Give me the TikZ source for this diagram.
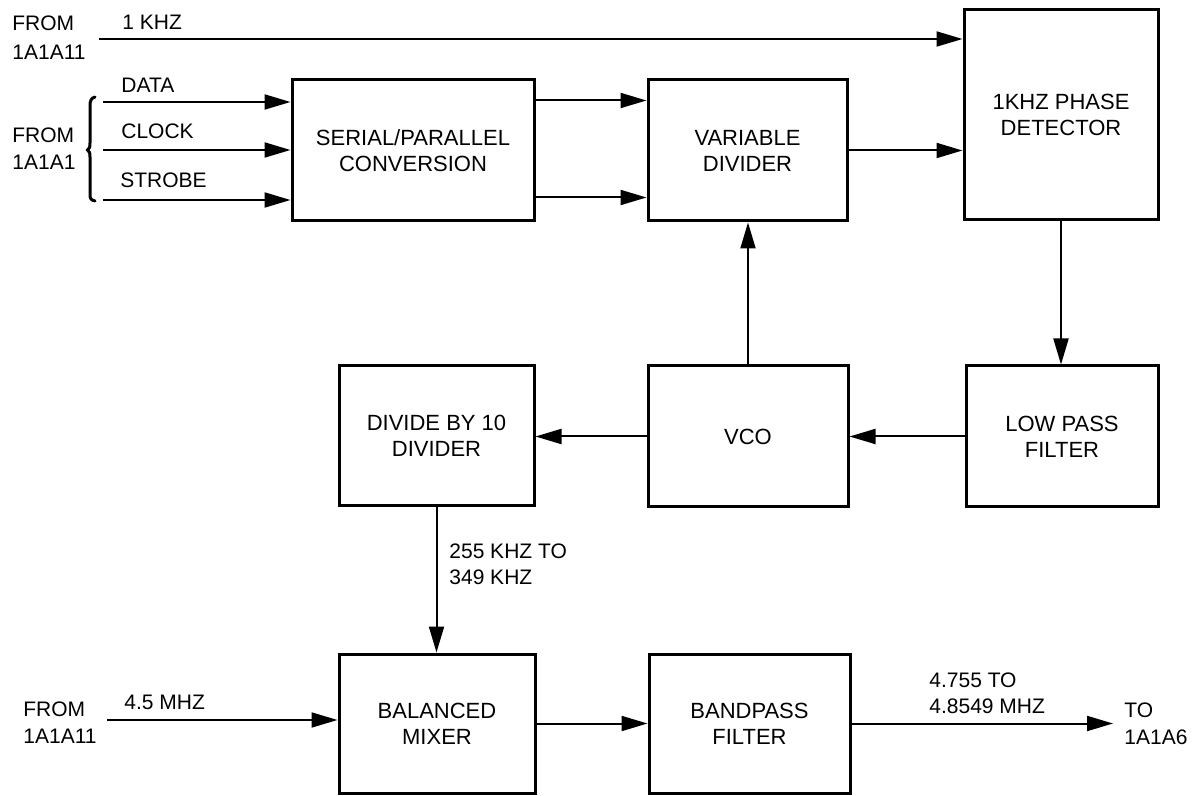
\documentclass[tikz,border=0pt]{standalone}
\usepackage{fontspec}
\setmainfont{Liberation Sans}
\usetikzlibrary{arrows.meta,calc}
\begin{document}
\begin{tikzpicture}[x=0.5pt,y=-0.5pt,
  blk/.style={draw, line width=1.5pt, align=center, inner sep=0pt,
              font=\fontsize{11}{13}\selectfont},
  lbl/.style={anchor=base west, inner sep=0pt, font=\fontsize{10.5}{12}\selectfont},
  arr/.style={line width=1pt, -{Triangle[length=13pt,width=7.5pt]}},
  brc/.style={line width=1.5pt, line cap=round}]
\useasboundingbox (0,0) rectangle (1200,796);

% blocks
\node[blk, minimum width=121pt, minimum height=70.5pt] (ser) at (413,150.5) {SERIAL/PARALLEL\\CONVERSION};
\node[blk, minimum width=99.5pt, minimum height=70.5pt] (vd) at (747.5,150.5) {VARIABLE\\DIVIDER};
\node[blk, minimum width=97pt, minimum height=105pt] (pd) at (1061,115) {1KHZ PHASE\\DETECTOR};
\node[blk, minimum width=96pt, minimum height=70.5pt] (lpf) at (1062,436.5) {LOW PASS\\FILTER};
\node[blk, minimum width=100pt, minimum height=70.5pt] (vco) at (748,436.5) {VCO};
\node[blk, minimum width=97.5pt, minimum height=70pt] (div) at (436.5,436) {DIVIDE BY 10\\DIVIDER};
\node[blk, minimum width=98pt, minimum height=69.5pt] (bm) at (437,723.5) {BALANCED\\MIXER};
\node[blk, minimum width=100.5pt, minimum height=69.5pt] (bpf) at (749.5,723.5) {BANDPASS\\FILTER};

% labels
\node[lbl] (f1a) at (12,30.5) {FROM};
\node[lbl] (f1b) at (12,60) {1A1A11};
\node[lbl] (k1) at (122,29.5) {1 KHZ};
\node[lbl] (ldata) at (121,93) {DATA};
\node[lbl] (lclk) at (121,138.5) {CLOCK};
\node[lbl] (lstr) at (120,188) {STROBE};
\node[lbl] (f2a) at (12,143) {FROM};
\node[lbl] (f2b) at (12,170) {1A1A1};
\node[lbl] (r1) at (449,559) {255 KHZ TO};
\node[lbl] (r2) at (449,585) {349 KHZ};
\node[lbl] (f3a) at (23,716) {FROM};
\node[lbl] (f3b) at (23,743) {1A1A11};
\node[lbl] (m45) at (124,709) {4.5 MHZ};
\node[lbl] (o1) at (929,687) {4.755 TO};
\node[lbl] (o2) at (929,713) {4.8549 MHZ};
\node[lbl] (t1) at (1124,717) {TO};
\node[lbl] (t2) at (1124,744) {1A1A6};

% brace
\draw[brc] (95,97) .. controls (91,98) and (90,101) .. (90,106) -- (90,143)
  .. controls (90,147) and (89.5,149) .. (87.5,150)
  .. controls (89.5,151) and (90,153) .. (90,157) -- (90,194)
  .. controls (90,199) and (91,200) .. (95,201);

% free ends
\coordinate (kin) at (99,39);
\coordinate (din) at (103,102);
\coordinate (cin) at (103,150);
\coordinate (sin) at (103,200);
\coordinate (min) at (107,720);
\coordinate (out) at (1113,723.5);

% connectors
\draw[arr] (kin) -- (kin -| pd.west);
\draw[arr] (din) -- (din -| ser.west);
\draw[arr] (cin) -- (cin -| ser.west);
\draw[arr] (sin) -- (sin -| ser.west);
\draw[arr] ($(ser.north east)+(0,22)$) -- ($(vd.north west)+(0,22)$);
\draw[arr] ($(ser.north east)+(0,119)$) -- ($(vd.north west)+(0,119)$);
\draw[arr] (vd.east) -- (vd.east -| pd.west);
\draw[arr] (pd.south) -- (pd.south |- lpf.north);
\draw[arr] (lpf.west) -- (lpf.west -| vco.east);
\draw[arr] (vco.west) -- (vco.west -| div.east);
\draw[arr] (vco.north) -- (vco.north |- vd.south);
\draw[arr] (div.south) -- (div.south |- bm.north);
\draw[arr] (min) -- (min -| bm.west);
\draw[arr] (bm.east) -- (bm.east -| bpf.west);
\draw[arr] (bpf.east) -- (out);
\end{tikzpicture}
\end{document}
